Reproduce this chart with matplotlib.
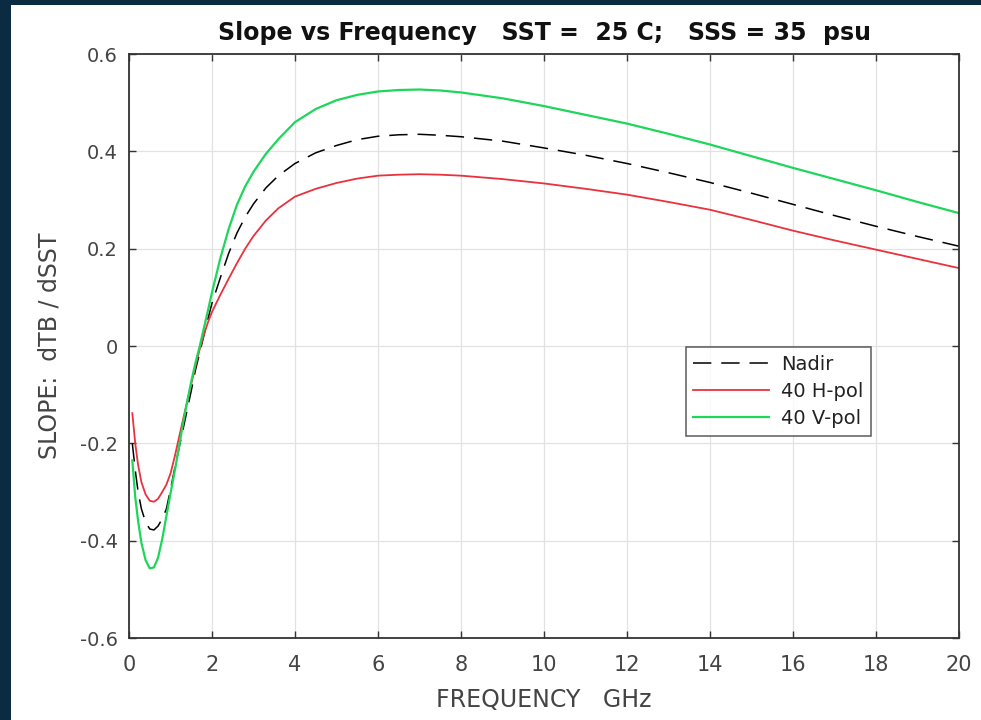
import matplotlib
matplotlib.use("Agg")
import matplotlib.pyplot as plt
import matplotlib.patches as patches

# frequency (GHz) and slope dTB/dSST
freq = [0.08, 0.15, 0.22, 0.3, 0.4, 0.5, 0.6, 0.7, 0.8, 0.9, 1.0, 1.1, 1.2,
        1.3, 1.4, 1.5, 1.6, 1.7, 1.8, 1.9, 2.0, 2.2, 2.4, 2.6, 2.8, 3.0, 3.3,
        3.6, 4.0, 4.5, 5.0, 5.5, 6.0, 6.5, 7.0, 7.5, 8.0, 9.0, 10.0, 11.0,
        12.0, 13.0, 14.0, 15.0, 16.0, 17.0, 18.0, 19.0, 20.0]

nadir = [-0.200, -0.255, -0.300, -0.335, -0.362, -0.376, -0.378, -0.370,
         -0.355, -0.335, -0.295, -0.252, -0.212, -0.172, -0.132, -0.092,
         -0.050, -0.015, 0.020, 0.055, 0.088, 0.140, 0.190, 0.232, 0.265,
         0.292, 0.325, 0.350, 0.375, 0.397, 0.412, 0.424, 0.431, 0.434,
         0.435, 0.433, 0.430, 0.421, 0.407, 0.392, 0.375, 0.356, 0.336,
         0.314, 0.291, 0.268, 0.246, 0.225, 0.205]

hpol = [-0.138, -0.200, -0.245, -0.280, -0.305, -0.318, -0.320, -0.314,
        -0.300, -0.285, -0.262, -0.228, -0.190, -0.152, -0.115, -0.078,
        -0.042, -0.008, 0.022, 0.048, 0.070, 0.105, 0.138, 0.170, 0.200,
        0.226, 0.258, 0.283, 0.307, 0.323, 0.335, 0.344, 0.350, 0.352,
        0.353, 0.352, 0.350, 0.343, 0.334, 0.323, 0.311, 0.296, 0.280,
        0.259, 0.237, 0.217, 0.198, 0.179, 0.160]

vpol = [-0.235, -0.310, -0.360, -0.405, -0.440, -0.457, -0.455, -0.435,
        -0.397, -0.350, -0.303, -0.258, -0.210, -0.160, -0.115, -0.073,
        -0.035, -0.002, 0.035, 0.072, 0.110, 0.180, 0.240, 0.290, 0.328,
        0.358, 0.395, 0.425, 0.460, 0.487, 0.505, 0.516, 0.523, 0.526,
        0.527, 0.525, 0.521, 0.509, 0.493, 0.475, 0.457, 0.436, 0.414,
        0.390, 0.366, 0.343, 0.320, 0.296, 0.273]

xticks = [0, 2, 4, 6, 8, 10, 12, 14, 16, 18, 20]
yticks = [-0.6, -0.4, -0.2, 0, 0.2, 0.4, 0.6]
yticklabels = ['-0.6', '-0.4', '-0.2', '0', '0.2', '0.4', '0.6']

plt.rcParams['font.family'] = ['DejaVu Sans']

fig = plt.figure(figsize=(9.81, 7.2), dpi=100)
fig.patch.set_facecolor('#0b2b42')
# white sheet of the screenshot
fig.add_artist(patches.Rectangle((11 / 981, 0), 1 - 11 / 981, 1 - 5 / 720,
                                 transform=fig.transFigure, facecolor='white',
                                 edgecolor='none', zorder=0))

ax = fig.add_axes([129 / 981, 1 - 638 / 720, 830 / 981, 584 / 720])
ax.set_facecolor('white')

ax.plot(freq, nadir, color='black', lw=1.1, dashes=(12, 6.5), label='Nadir')
ax.plot(freq, hpol, color='#e8323e', lw=1.3, label='40 H-pol')
ax.plot(freq, vpol, color='#1ed65a', lw=1.6, label='40 V-pol')

ax.set_xlim(0, 20)
ax.set_ylim(-0.6, 0.6)
ax.set_xticks(xticks)
ax.set_yticks(yticks)
ax.set_yticklabels(yticklabels)
ax.grid(True, color='#e2e2e2', lw=0.9)
ax.set_axisbelow(True)
ax.tick_params(direction='in', length=5, width=1, top=True, right=True,
               labelcolor='#444444', color='#333333')
ax.tick_params(axis='x', labelsize=15, pad=12)
ax.tick_params(axis='y', labelsize=14, pad=8)
for sp in ax.spines.values():
    sp.set_color('#333333')
    sp.set_linewidth(1.3)

ax.set_title('Slope vs Frequency   SST =  25 C;   SSS = 35  psu',
             fontsize=17, fontweight='bold', color='#111111', pad=10)
ax.set_xlabel('FREQUENCY   GHz', fontsize=17, color='#444444')
ax.set_ylabel('SLOPE:  dTB / dSST', fontsize=17, color='#444444')
ax.xaxis.set_label_coords(0.5, -0.086)
ax.yaxis.set_label_coords(-0.081, 0.5)

leg = ax.legend(loc='upper left', bbox_to_anchor=(0.671, 0.498), fontsize=14,
                frameon=True, fancybox=False, handlelength=3.9,
                borderpad=0.38, labelspacing=0.43, handletextpad=0.6,
                borderaxespad=0)
leg.get_frame().set_edgecolor('#333333')
leg.get_frame().set_linewidth(1.1)
for t in leg.get_texts():
    t.set_color('#222222')

fig.savefig('out.png', dpi=100, facecolor=fig.get_facecolor())
